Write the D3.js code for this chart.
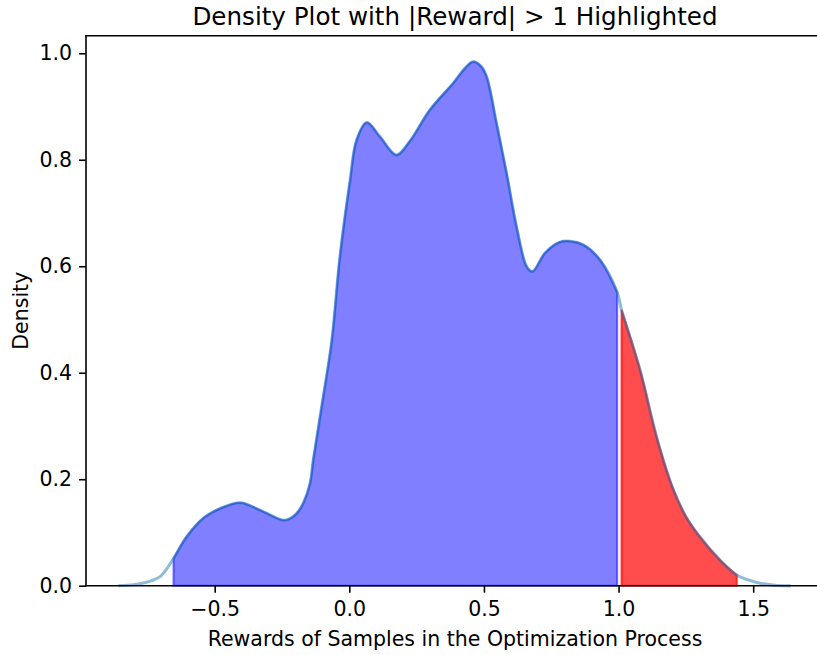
<!DOCTYPE html>
<html>
<head>
<meta charset="utf-8">
<script src="https://cdn.jsdelivr.net/npm/d3@7"></script>
<style>
  body { margin: 0; background: #fff; }
  text { font-family: 'DejaVu Sans', sans-serif; fill: #000; }
</style>
</head>
<body>
<div id="wrapper"></div>
<script>
// density curve (reward value, density)
const rewards = [
  -0.858, -0.8, -0.765, -0.703, -0.653, -0.604, -0.542, -0.48, -0.405, -0.332,
  -0.245, -0.22, -0.195, -0.17, -0.146, -0.134, -0.1, -0.065, -0.035, 0.003,
  0.027, 0.065, 0.114, 0.175, 0.225, 0.3, 0.386, 0.43, 0.46, 0.49,
  0.51, 0.547, 0.584, 0.622, 0.659, 0.68, 0.727, 0.78, 0.82, 0.87,
  0.931, 0.995, 1.011, 1.08, 1.141, 1.2, 1.25, 1.3, 1.377, 1.439,
  1.513, 1.58, 1.64
]
const densities = [
  0.0, 0.002, 0.005, 0.017, 0.051, 0.092, 0.127, 0.145, 0.156, 0.142,
  0.123, 0.126, 0.136, 0.156, 0.192, 0.236, 0.345, 0.461, 0.618, 0.762,
  0.837, 0.87, 0.843, 0.809, 0.835, 0.894, 0.944, 0.972, 0.984, 0.975,
  0.956, 0.868, 0.775, 0.672, 0.599, 0.59, 0.625, 0.645, 0.647, 0.64,
  0.612, 0.551, 0.518, 0.405, 0.28, 0.185, 0.13, 0.093, 0.048, 0.02,
  0.006, 0.001, 0.0
]
// shaded ranges: normal samples in blue, |reward| > 1 in red
const normalRange = [-0.653, 0.995]
const highlightRange = [1.011, 1.439]

const xTicks = [-0.5, 0.0, 0.5, 1.0, 1.5]
const yTicks = [0.0, 0.2, 0.4, 0.6, 0.8, 1.0]
const xDomain = [-0.978, 1.763]
const yDomain = [0, 1.033]

const dataset = rewards.map((r, i) => ({ x: r, y: densities[i] }))

let dimensions = {
  width: 817,
  height: 655,
  margin: { top: 35.7, right: -7, bottom: 69.3, left: 86 },
}
dimensions.boundedWidth =
  dimensions.width - dimensions.margin.left - dimensions.margin.right
dimensions.boundedHeight =
  dimensions.height - dimensions.margin.top - dimensions.margin.bottom

const wrapper = d3
  .select('#wrapper')
  .append('svg')
  .attr('width', dimensions.width)
  .attr('height', dimensions.height)
  .style('display', 'block')

const bounds = wrapper
  .append('g')
  .attr('transform', `translate(${dimensions.margin.left},${dimensions.margin.top})`)

const xScale = d3.scaleLinear().domain(xDomain).range([0, dimensions.boundedWidth])
const yScale = d3.scaleLinear().domain(yDomain).range([dimensions.boundedHeight, 0])

// smooth curve through the read points
const curve = d3.curveCatmullRom.alpha(0.5)

const area = d3
  .area()
  .x((d) => xScale(d.x))
  .y0(yScale(0))
  .y1((d) => yScale(d.y))
  .curve(curve)

const line = d3
  .line()
  .x((d) => xScale(d.x))
  .y((d) => yScale(d.y))
  .curve(curve)

const inRange = (range) => dataset.filter((d) => d.x >= range[0] && d.x <= range[1])

// blue fill for the rest
bounds
  .append('path')
  .datum(inRange(normalRange))
  .attr('d', area)
  .attr('fill', '#0000ff')
  .attr('fill-opacity', 0.5)
  .attr('stroke', '#0000ff')
  .attr('stroke-opacity', 0.5)
  .attr('stroke-width', 2)

// red fill for |reward| > 1
bounds
  .append('path')
  .datum(inRange(highlightRange))
  .attr('d', area)
  .attr('fill', '#ff0000')
  .attr('fill-opacity', 0.7)
  .attr('stroke', '#ff0000')
  .attr('stroke-opacity', 0.7)
  .attr('stroke-width', 2)

// kde line on top, half transparent
bounds
  .append('path')
  .datum(dataset)
  .attr('d', line)
  .attr('fill', 'none')
  .attr('stroke', '#1f77b4')
  .attr('stroke-opacity', 0.5)
  .attr('stroke-width', 3)

// axes
const fmt = d3.format('.1f')
const xAxis = bounds
  .append('g')
  .attr('transform', `translate(0,${dimensions.boundedHeight})`)
  .call(d3.axisBottom(xScale).tickValues(xTicks).tickFormat(fmt).tickSize(7).tickPadding(9))
const yAxis = bounds
  .append('g')
  .call(d3.axisLeft(yScale).tickValues(yTicks).tickFormat(fmt).tickSize(7).tickPadding(7))

;[xAxis, yAxis].forEach((g) => {
  g.select('.domain').remove()
  g.selectAll('.tick line').attr('stroke', '#000').attr('stroke-width', 1.6)
  g.selectAll('.tick text').attr('font-size', '20.5px').attr('font-family', 'DejaVu Sans')
})

// spines
const spine = (x1, y1, x2, y2) =>
  bounds
    .append('line')
    .attr('x1', x1).attr('y1', y1).attr('x2', x2).attr('y2', y2)
    .attr('stroke', '#000')
    .attr('stroke-width', 1.6)
    .attr('stroke-linecap', 'square')
spine(0, 0, 0, dimensions.boundedHeight)
spine(0, dimensions.boundedHeight, dimensions.boundedWidth, dimensions.boundedHeight)
spine(0, 0, dimensions.boundedWidth, 0)
spine(dimensions.boundedWidth, 0, dimensions.boundedWidth, dimensions.boundedHeight)

// title and labels
wrapper
  .append('text')
  .attr('x', dimensions.margin.left + dimensions.boundedWidth / 2)
  .attr('y', 25)
  .attr('text-anchor', 'middle')
  .attr('font-size', '24.6px')
  .text('Density Plot with |Reward| > 1 Highlighted')

wrapper
  .append('text')
  .attr('x', dimensions.margin.left + dimensions.boundedWidth / 2)
  .attr('y', 646)
  .attr('text-anchor', 'middle')
  .attr('font-size', '20.5px')
  .text('Rewards of Samples in the Optimization Process')

wrapper
  .append('text')
  .attr('transform', `translate(28,${dimensions.margin.top + dimensions.boundedHeight / 2}) rotate(-90)`)
  .attr('text-anchor', 'middle')
  .attr('font-size', '20.5px')
  .text('Density')
</script>
</body>
</html>
